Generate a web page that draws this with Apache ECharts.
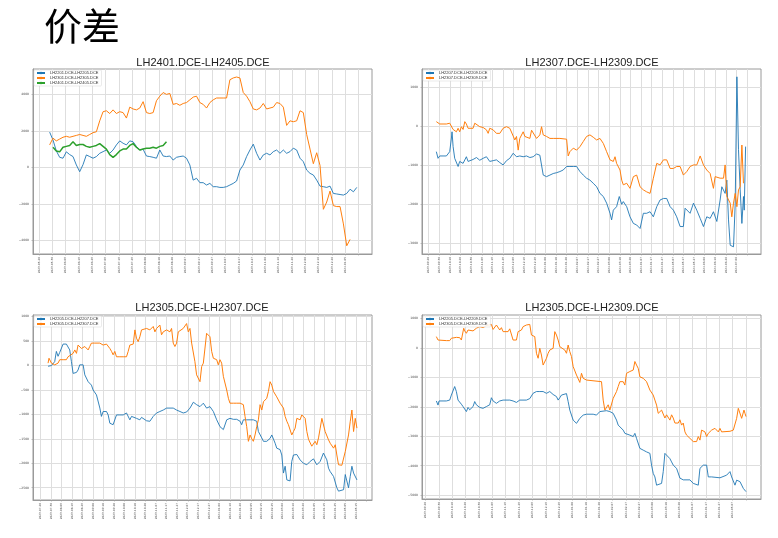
<!DOCTYPE html>
<html><head><meta charset="utf-8">
<script src="https://cdn.jsdelivr.net/npm/echarts@6/dist/echarts.min.js"></script>
<style>html,body{margin:0;padding:0;background:#fff}#c{width:778px;height:538px}</style>
</head><body><div id="c"></div>
<script>
// ---------------- DATA ----------------
const mainTitle = '价差';
const titles = ['LH2401.DCE-LH2405.DCE','LH2307.DCE-LH2309.DCE','LH2305.DCE-LH2307.DCE','LH2305.DCE-LH2309.DCE'];
const names1 = ['LH2201.DCE-LH2205.DCE','LH2301.DCE-LH2305.DCE','LH2401.DCE-LH2405.DCE'];
const names2 = ['LH2207.DCE-LH2209.DCE','LH2307.DCE-LH2309.DCE'];
const names3 = ['LH2205.DCE-LH2207.DCE','LH2305.DCE-LH2307.DCE'];
const names4 = ['LH2205.DCE-LH2209.DCE','LH2305.DCE-LH2309.DCE'];

// x values are days after each panel's first tick date
const xOrigins = ['2023-05-20','2023-09-20','2023-07-20','2023-09-20'];
const xTickLast = [240, 300, 310, 240];   // last tick is drawn without a label
const yTicks1 = [-4000,-2000,0,2000,4000];
const yTicks2 = [-3000,-2000,-1000,0,1000];
const yTicks3 = [-2500,-2000,-1500,-1000,-500,0,500,1000];
const yTicks4 = [-5000,-4000,-3000,-2000,-1000,0,1000];

// panel 1: evenly sampled (start day, step in days)
const c1Start = 8.0, c1Step = 2.506;
const c1Blue = [1930,1500,900,550,500,850,700,590,130,-240,
 150,680,590,500,590,770,860,950,770,950,
 1230,1450,1320,1230,1450,1400,1140,950,990,620,
 590,550,500,950,620,590,620,400,550,590,
 620,500,130,-700,-600,-840,-840,-970,-880,-1060,
 -1060,-1100,-1100,-1060,-970,-880,-750,-150,130,590,
 950,1270,770,400,680,770,680,860,950,770,
 950,770,860,1050,950,500,310,-150,-330,-420,
 -700,-1030,-1060,-1100,-1030,-1430,-1460,-1490,-1520,-1430,
 -1200,-1340,-1100];
const c1Orange = [1230,1600,1450,1550,1650,1700,1650,1700,1750,1800,
 1750,1700,1800,1900,1950,2550,3050,3100,2950,3150,
 2950,3050,3000,2700,3300,3200,3150,3250,3600,3000,
 2950,3000,3650,3900,4100,4000,4050,3450,3500,3400,
 3500,3550,3700,3850,3900,3550,3450,3250,3550,3700,
 3800,3800,3800,3800,4800,4900,4950,4900,4100,3900,
 3600,3200,3150,3250,3500,3200,3250,3300,3550,3500,
 3300,2300,2550,2500,2550,3100,3000,1800,1000,200,
 800,100,-2300,-1900,-1300,-2100,-2150,-2150,-3100,-4300,
 -3950];
const c1GreenStart = 10.5;
const c1Green = [1100,900,850,1100,1150,1200,1400,1200,1250,1250,
 1150,1100,1150,1200,1300,1150,1000,700,550,700,
 900,1000,1000,1200,1300,1100,950,1000,1050,1050,
 1100,1050,1150,1200,1400];

// panels 2-4: [day, value]
const c2Blue = [[7.2,-650],[8.8,-820],[10.4,-760],[13.5,-760],[16.7,-760],[19.8,-650],[21.4,-300],[22.0,-140],[23.0,-520],[24.5,-820],
 [27.7,-1030],[29.2,-900],[32.4,-950],[35.5,-780],[37.1,-900],[38.7,-860],[41.8,-850],[45.0,-800],[48.1,-870],[51.3,-820],
 [54.4,-780],[57.5,-900],[60.7,-880],[63.8,-860],[67.0,-930],[70.1,-990],[73.3,-880],[76.4,-820],[79.6,-690],[82.7,-780],
 [85.8,-760],[89.0,-780],[92.1,-760],[95.3,-800],[98.4,-780],[101.6,-710],[104.7,-740],[107.9,-1250],[111.0,-1290],[114.2,-1250],
 [117.3,-1210],[120.4,-1190],[123.6,-1160],[126.7,-1120],[129.9,-1030],[133.0,-1030],[136.2,-1030],[139.3,-1030],[142.5,-1160],[145.6,-1250],
 [148.7,-1330],[151.9,-1380],[155.0,-1460],[158.2,-1550],[161.3,-1720],[164.5,-1800],[167.6,-1970],[170.8,-2230],[172.3,-2400],[173.9,-2150],
 [177.0,-2060],[179.5,-1800],[181.8,-2000],[183.3,-1930],[186.5,-2060],[189.6,-2320],[192.8,-2490],[195.9,-2530],[199.1,-2620],[202.2,-2230],
 [205.3,-2230],[208.5,-2190],[211.6,-2320],[214.8,-2060],[217.9,-1890],[221.1,-1850],[224.2,-1850],[227.4,-2060],[230.5,-2150],[233.6,-2320],
 [236.8,-2570],[239.9,-2570],[241.5,-2100],[243.1,-2060],[246.2,-2230],[249.4,-1970],[252.5,-2150],[255.7,-2360],[258.8,-2570],[261.9,-2320],
 [265.1,-2360],[268.2,-2190],[271.4,-2440],[274.5,-1890],[276.1,-1550],[279.2,-1720],[280.8,-1380],[282.4,-2400],[284.0,-3050],[287.1,-3090],
 [288.7,-2000],[290.3,1270],[291.8,-600],[293.4,-1630],[295.0,-2490],[296.5,-1800],[297.2,-2150],[298.5,-520]];
const c2Orange = [[7.2,120],[10.4,60],[13.5,60],[16.7,60],[19.8,80],[23.0,-80],[26.1,-140],[27.7,-50],[29.2,-140],[30.8,-10],
 [32.4,-80],[34.0,120],[35.5,60],[37.1,-50],[38.7,-10],[41.8,-50],[43.4,80],[45.0,30],[48.1,-10],[51.3,-30],
 [54.4,-90],[56.0,-180],[57.5,-50],[59.1,-10],[60.7,-90],[63.8,-180],[67.0,-180],[70.1,-50],[73.3,-10],[76.4,-50],
 [79.6,-250],[81.1,-350],[82.7,-260],[84.3,-610],[85.8,-310],[89.0,-140],[90.6,-260],[92.1,-220],[95.3,-310],[96.9,-100],
 [98.4,-140],[101.6,-310],[104.7,-220],[106.3,-10],[107.9,-220],[111.0,-260],[114.2,-310],[117.3,-310],[123.6,-310],[129.9,-330],
 [131.4,-760],[133.0,-650],[136.2,-560],[139.3,-610],[142.5,-520],[145.6,-390],[148.7,-260],[151.9,-220],[155.0,-280],[158.2,-350],
 [161.3,-310],[164.5,-440],[167.6,-650],[170.8,-860],[173.9,-900],[175.5,-780],[177.0,-950],[180.2,-1120],[181.8,-1380],[183.3,-1500],
 [186.5,-1460],[189.6,-1590],[192.8,-1290],[195.9,-1250],[199.1,-1550],[202.2,-1630],[205.3,-1680],[208.5,-1720],[211.6,-1330],[214.8,-950],
 [217.9,-990],[221.1,-860],[224.2,-860],[227.4,-1080],[230.5,-1080],[233.6,-1030],[236.8,-1030],[239.9,-1250],[243.1,-1160],[246.2,-1030],
 [249.4,-990],[252.5,-990],[255.7,-760],[258.8,-990],[261.9,-1120],[265.1,-1210],[268.2,-1590],[269.8,-1290],[274.5,-1330],[277.7,-1330],
 [279.2,-990],[280.8,-1800],[284.0,-1970],[285.5,-2320],[287.1,-1970],[288.7,-1720],[290.3,-2060],[291.8,-1630],[293.4,-1550],[295.0,-480],
 [296.5,-1460]];
const c3Blue = [[7.3,-14],[10.5,0],[12.1,15],[13.6,80],[15.2,290],[16.8,190],[18.4,270],[20.0,290],[21.6,440],[23.2,460],
 [24.7,440],[26.3,410],[27.9,320],[29.5,80],[31.1,-160],[32.7,-160],[34.3,-140],[35.8,-90],[37.4,15],[39.0,0],
 [40.6,15],[42.2,-190],[43.8,-220],[45.4,-330],[46.9,-360],[48.5,-400],[50.1,-500],[51.7,-460],[53.3,-600],[54.9,-630],
 [56.5,-870],[58.0,-1040],[59.6,-940],[62.8,-940],[64.4,-1010],[66.0,-1180],[69.1,-1210],[70.7,-1180],[72.3,-1010],[75.5,-1010],
 [78.7,-1010],[81.8,-970],[83.4,-940],[85.0,-1110],[86.6,-1040],[88.2,-1040],[91.3,-1080],[94.5,-1110],[96.1,-1060],[97.7,-1080],
 [100.9,-1130],[104.0,-1140],[105.6,-1110],[107.2,-1040],[110.4,-970],[112.0,-1010],[113.5,-940],[116.7,-910],[119.9,-870],[123.1,-870],
 [126.2,-870],[129.4,-910],[132.6,-940],[135.7,-970],[138.9,-950],[142.1,-870],[145.3,-750],[146.8,-740],[148.4,-800],[151.6,-840],
 [154.8,-770],[157.9,-870],[161.1,-840],[164.3,-940],[167.5,-1110],[170.6,-1250],[173.8,-1310],[175.4,-1280],[177.0,-1110],[180.1,-1080],
 [183.3,-1100],[186.5,-1100],[189.7,-1140],[191.2,-1210],[192.8,-1110],[196.0,-1110],[199.2,-1110],[202.3,-1110],[205.5,-1140],[207.1,-1350],
 [208.7,-1380],[210.3,-1480],[211.9,-1550],[213.4,-1520],[215.0,-1550],[218.2,-1490],[219.8,-1420],[221.4,-1450],[223.0,-1590],[224.5,-1690],
 [227.7,-1720],[229.3,-1830],[230.9,-2200],[232.5,-2060],[234.1,-2340],[237.2,-2360],[238.8,-1960],[240.4,-1830],[242.0,-1800],[243.6,-1820],
 [246.7,-1930],[249.9,-2000],[253.1,-2030],[256.3,-1960],[259.4,-1910],[262.6,-2030],[265.8,-1960],[268.9,-1790],[270.5,-1760],[272.1,-1930],
 [273.7,-2100],[275.3,-2170],[278.5,-2270],[281.6,-2500],[283.2,-2570],[284.8,-2540],[288.0,-2540],[289.6,-2230],[291.2,-2270],[292.7,-2500],
 [294.3,-2270],[295.9,-2060],[297.5,-2200],[299.1,-2230],[300.7,-2340]];
const c3Orange = [[7.3,50],[8.2,150],[8.9,120],[10.5,50],[12.1,80],[13.6,15],[15.2,-20],[16.8,50],[18.4,120],[20.0,80],
 [21.6,120],[24.7,120],[26.3,180],[27.9,220],[31.1,250],[32.7,320],[34.3,250],[35.8,420],[37.4,460],[39.0,350],
 [40.6,320],[42.2,390],[43.8,420],[45.4,320],[46.9,390],[48.5,460],[50.1,490],[51.7,460],[53.3,490],[56.5,460],
 [59.6,420],[62.8,440],[66.0,350],[67.6,290],[69.1,220],[70.7,290],[72.3,180],[75.5,180],[78.7,180],[81.8,180],
 [83.4,290],[85.0,420],[88.2,440],[89.8,730],[91.3,560],[92.9,490],[94.5,590],[96.1,730],[97.7,690],[100.9,760],
 [104.0,730],[107.2,800],[108.8,690],[110.4,760],[113.5,830],[115.1,630],[116.7,690],[119.9,730],[123.1,690],[124.6,760],
 [126.2,460],[127.8,390],[129.4,460],[131.0,690],[132.6,730],[135.7,760],[137.3,730],[138.9,860],[140.5,690],[142.1,760],
 [143.7,460],[145.3,420],[146.8,80],[148.4,-190],[150.0,-160],[151.6,-330],[153.2,-20],[154.8,50],[157.9,660],[159.5,630],
 [161.1,590],[162.7,290],[164.3,150],[167.5,120],[169.0,15],[170.6,120],[172.2,50],[173.8,-220],[177.0,-500],[178.6,-670],
 [180.1,-770],[183.3,-770],[186.5,-770],[189.7,-770],[192.8,-800],[194.4,-1040],[196.0,-1250],[197.6,-1550],[199.2,-1420],[200.8,-1500],
 [202.3,-1550],[203.9,-1420],[205.5,-1250],[207.1,-1110],[208.7,-800],[210.3,-910],[211.9,-740],[215.0,-670],[216.6,-530],[218.2,-330],
 [219.8,-400],[221.4,-530],[224.5,-640],[226.1,-670],[227.7,-770],[230.9,-870],[232.5,-1040],[234.1,-1140],[235.6,-1210],[237.2,-1250],
 [238.8,-1420],[240.4,-1350],[242.0,-1280],[243.6,-1080],[245.2,-1040],[246.7,-1110],[248.3,-1010],[249.9,-1010],[251.5,-1080],[253.1,-1350],
 [254.7,-1510],[256.3,-1550],[257.8,-1650],[259.4,-1690],[261.0,-1550],[262.6,-1620],[264.2,-1480],[265.8,-1280],[267.4,-1080],[268.9,-1110],
 [270.5,-1350],[272.1,-1380],[273.7,-1520],[275.3,-1590],[278.5,-1690],[280.1,-1620],[281.6,-1830],[283.2,-2030],[284.8,-2040],[286.4,-2040],
 [288.0,-2030],[289.6,-1760],[291.2,-1720],[292.7,-1420],[294.3,-1150],[295.9,-910],[297.5,-1350],[299.1,-1080],[300.7,-1280]];
const c4Blue = [[8,-1800],[9.25,-1940],[10,-1800],[13,-1800],[15.5,-1800],[18,-1770],[19.25,-1600],[20.5,-1620],[21.75,-1310],[23,-1480],
 [24.25,-1770],[25.5,-1820],[26.75,-1910],[28,-1990],[29.25,-2050],[30.5,-2160],[31.75,-2020],[33,-2100],[34.25,-2050],[35.5,-1990],
 [36.75,-1820],[38,-1930],[40.5,-2020],[43,-2050],[45.5,-1990],[48,-1930],[49.25,-1690],[50.5,-1800],[53,-1880],[55.5,-1800],
 [58,-1770],[63,-1770],[65.5,-1800],[68,-1850],[70.5,-1770],[75.5,-1770],[78,-1720],[80.5,-1540],[83,-1480],[85.5,-1480],
 [86.75,-1540],[88,-1480],[90.5,-1540],[93,-1480],[95.5,-1580],[98,-1650],[99.25,-1770],[100.5,-1690],[101.75,-1600],[103,-1550],
 [105.5,-1550],[106.75,-1820],[108,-2110],[110.5,-2450],[113,-2560],[114.25,-2620],[115.5,-2390],[118,-2280],[120.5,-2250],[125.5,-2250],
 [128,-2280],[129.25,-2330],[130.5,-2160],[135.5,-2130],[138,-2160],[140.5,-2220],[141.75,-2280],[143,-2450],[144.25,-2620],[145.5,-2620],
 [148,-2790],[149.25,-2900],[150.5,-2960],[153,-2960],[155.5,-3010],[156.75,-2900],[158,-3070],[159.25,-3010],[160.5,-3410],[163,-3470],
 [165.5,-3530],[168,-3580],[169.25,-3980],[170.5,-4260],[171.75,-4380],[173,-4660],[174.25,-4600],[176.75,-4600],[178,-4200],[179.25,-3580],
 [180.5,-3640],[183,-3760],[184.25,-3870],[185.5,-3980],[188,-4090],[190.5,-4420],[193,-4480],[198,-4480],[200.5,-4600],[204.25,-4660],
 [205.5,-4090],[208,-3980],[210.5,-3980],[211.75,-4380],[213,-4320],[214.25,-4380],[215.5,-4320],[220.5,-4410],[225.5,-4320],[228,-4200],
 [229.25,-4380],[230.5,-4320],[231.75,-4660],[233,-4490],[235.5,-4540],[238,-4770],[240,-4880]];
const c4Orange = [[8,385],[9.25,270],[10.5,250],[15.5,250],[18,250],[19.25,330],[20.5,385],[23,360],[25.5,350],[26.75,270],
 [28,210],[28.5,670],[29.25,580],[30.5,500],[31.75,610],[33,555],[35.5,580],[38,670],[39.25,610],[40.5,725],
 [43,690],[44.25,670],[45.5,760],[49.25,800],[50.5,630],[51.75,690],[53,780],[54.25,800],[55.5,610],[56.75,690],
 [58,555],[61.75,555],[63,650],[64.25,610],[65.5,270],[68,270],[69.25,555],[70.5,500],[71.75,610],[73,725],
 [75.5,780],[76.75,840],[78,800],[79.25,440],[80.5,500],[81.75,385],[83,-180],[84.25,-350],[85.5,-10],[86.75,-240],
 [88,-580],[89.25,-580],[90.5,-350],[91.75,-180],[93,-70],[94.25,-120],[95.5,-10],[96.75,555],[98,440],[99.25,270],
 [100.5,45],[101.75,-10],[104.25,-70],[105.5,-180],[106.75,100],[108,-125],[109.25,-290],[110.5,-630],[113,-920],[115.5,-1170],
 [116.75,-860],[118,-1030],[120.5,-1090],[131.75,-1145],[133,-1770],[134.25,-2110],[135.5,-2050],[136.75,-1930],[138,-2110],[139.25,-2050],
 [140.5,-1710],[143,-1480],[144.25,-1310],[145.5,-1145],[148,-1145],[149.25,-1260],[150.5,-860],[153,-800],[155.5,-750],[156.75,-460],
 [158,-580],[159.25,-690],[160.5,-980],[161.75,-920],[163,-1030],[165.5,-1145],[166.75,-1200],[168,-1430],[170.5,-1600],[171.75,-1770],
 [173,-1940],[174.25,-2220],[175.5,-2160],[176.75,-2110],[178,-2160],[179.25,-2380],[180.5,-2270],[181.75,-2330],[183,-2450],[184.25,-2270],
 [185.5,-2380],[186.75,-2550],[188,-2500],[189.25,-2550],[190.5,-2440],[191.75,-2620],[193,-2550],[194.25,-2850],[195.5,-2960],[196.75,-3010],
 [198,-3070],[199.25,-3130],[200.5,-3180],[201.75,-3150],[203,-3180],[204.25,-3010],[205.5,-3130],[206.75,-2790],[208,-2790],[209.25,-2850],
 [210.5,-3010],[211.75,-2900],[213,-2850],[214.25,-2790],[216.75,-2730],[218,-2790],[219.25,-2850],[220.5,-2730],[221.75,-2850],[223,-2880],
 [228,-2830],[230.5,-2790],[233,-2390],[234.25,-2050],[235,-1990],[235.5,-2100],[236.75,-2390],[238,-2390],[238.5,-2110],[239.25,-2220],
 [240,-2330]];

// ---------------- LAYOUT / STYLE ----------------
const C_BLUE = '#1f77b4', C_ORANGE = '#ff7f0e', C_GREEN = '#2ca02c';
const even = (start, step, vals) => vals.map((v, k) => [start + k * step, v]);

const panels = [
  {grid:{left:33,top:69,width:339,height:185}, tx:203, ty:57, xr:[-4.5,250], yr:[-4750,5390], yTicks:yTicks1,
   series:[[names1[0], even(c1Start,c1Step,c1Blue), C_BLUE, 0.9],
           [names1[1], even(c1Start,c1Step,c1Orange), C_ORANGE, 1],
           [names1[2], even(c1GreenStart,c1Step,c1Green), C_GREEN, 1.5]]},
  {grid:{left:422,top:69,width:339,height:185}, tx:592, ty:57, xr:[-6.3,313], yr:[-3274,1470], yTicks:yTicks2,
   series:[[names2[0], c2Blue, C_BLUE, 0.9],[names2[1], c2Orange, C_ORANGE, 1]]},
  {grid:{left:33,top:315,width:339,height:185}, tx:202, ty:302, xr:[-7,315], yr:[-2751,1035], yTicks:yTicks3,
   series:[[names3[0], c3Blue, C_BLUE, 0.9],[names3[1], c3Orange, C_ORANGE, 1]]},
  {grid:{left:422,top:315,width:339,height:184}, tx:592, ty:302, xr:[-2.75,251.25], yr:[-5130,1120], yTicks:yTicks4,
   series:[[names4[0], c4Blue, C_BLUE, 0.9],[names4[1], c4Orange, C_ORANGE, 1]]}
];

function fmtDate(origin, d) {
  const p = origin.split('-').map(Number);
  const t = new Date(Date.UTC(p[0], p[1] - 1, p[2] + Math.round(d)));
  return t.getUTCFullYear() + '-' + String(t.getUTCMonth() + 1).padStart(2, '0') + '-' + String(t.getUTCDate()).padStart(2, '0');
}

const option = {
  animation: false,
  backgroundColor: '#fff',
  title: [{text: mainTitle, left: 44, top: 7, padding: 0,
           textStyle: {fontSize: 38, fontWeight: 'normal', color: '#000', fontFamily: '"Noto Sans CJK SC"'}}],
  legend: [], grid: [], xAxis: [], yAxis: [], series: []
};

panels.forEach((p, i) => {
  const xTicks = [];
  for (let d = 0; d <= xTickLast[i]; d += 10) xTicks.push(d);
  option.title.push({text: titles[i], left: p.tx, top: p.ty, textAlign: 'center', padding: 0,
    textStyle: {fontSize: 11, fontWeight: 'normal', color: '#222', fontFamily: '"Liberation Sans", Arial, sans-serif'}});
  option.grid.push(Object.assign({show: true, borderColor: '#9a9a9a', borderWidth: 1, backgroundColor: 'transparent'}, p.grid));
  option.xAxis.push({type: 'value', gridIndex: i, min: p.xr[0], max: p.xr[1],
    axisLine: {show: true, onZero: false, lineStyle: {color: '#9a9a9a', width: 1}},
    axisTick: {show: true, length: 1.5, customValues: xTicks, lineStyle: {color: '#9a9a9a', width: 0.6}},
    axisLabel: {customValues: xTicks, rotate: 90, fontSize: 2.8, margin: 3, color: '#444',
      fontFamily: '"DejaVu Sans", sans-serif',
      formatter: v => (v === xTickLast[i] ? '' : fmtDate(xOrigins[i], v))},
    splitLine: {show: true, lineStyle: {color: '#dedede', width: 1}}});
  option.yAxis.push({type: 'value', gridIndex: i, min: p.yr[0], max: p.yr[1],
    axisLine: {show: true, onZero: false, lineStyle: {color: '#9a9a9a', width: 1}},
    axisTick: {show: true, length: 1.5, customValues: p.yTicks, lineStyle: {color: '#9a9a9a', width: 0.6}},
    axisLabel: {customValues: p.yTicks, fontSize: 3, margin: 4, color: '#444',
      fontFamily: '"DejaVu Sans", sans-serif',
      formatter: v => String(v).replace('-', '\u2212')},
    splitLine: {show: true, lineStyle: {color: '#dedede', width: 1}}});
  option.legend.push({left: p.grid.left + 1, top: p.grid.top + 1, orient: 'vertical',
    data: p.series.map(s => s[0]), itemWidth: 8, itemHeight: 3, itemGap: 1, padding: [1, 3, 1, 2],
    backgroundColor: 'rgba(255,255,255,0.85)', borderColor: '#d4d4d4', borderWidth: 0.5, borderRadius: 1,
    selectedMode: false,
    textStyle: {fontSize: 4, color: '#333', lineHeight: 4, fontFamily: '"Liberation Sans", Arial, sans-serif'}});
  p.series.forEach(s => {
    option.series.push({type: 'line', name: s[0], xAxisIndex: i, yAxisIndex: i, data: s[1],
      symbol: 'none', showSymbol: false, color: s[2], clip: true,
      lineStyle: {color: s[2], width: s[3]}, emphasis: {disabled: true}});
  });
});

const chart = echarts.init(document.getElementById('c'), null, {renderer: 'canvas'});
chart.setOption(option);
</script>
</body></html>
